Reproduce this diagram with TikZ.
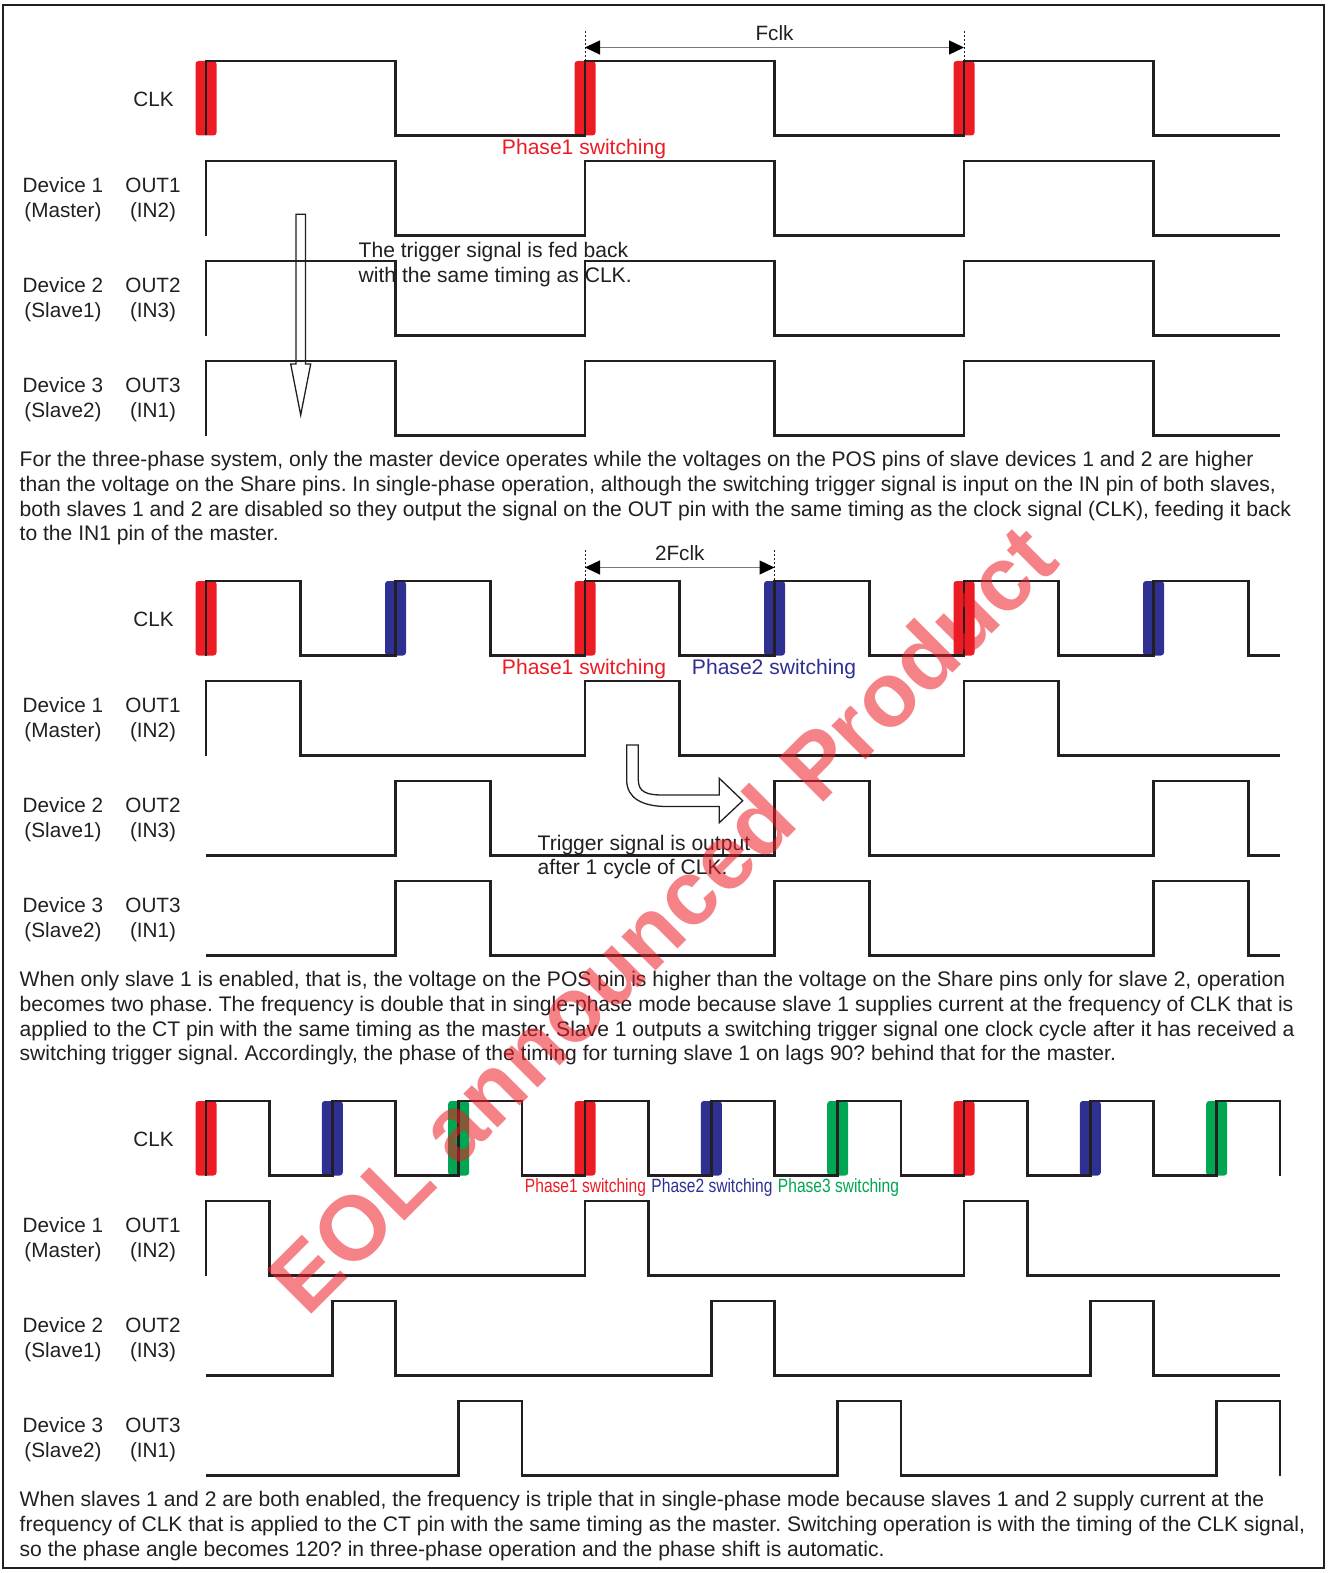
\documentclass[tikz,border=0pt]{standalone}
\usepackage{fontspec}
\setmainfont{Liberation Sans}
\usetikzlibrary{arrows.meta}
\definecolor{phred}{RGB}{237,28,36}
\definecolor{phblue}{RGB}{46,49,146}
\definecolor{phgreen}{RGB}{0,166,81}
\definecolor{ink}{RGB}{35,31,32}
\definecolor{dimgray}{RGB}{120,120,120}
\newcommand\txtfont{\fontsize{21.08}{24.7}\selectfont\frenchspacing}
\newcommand\lblfont{\fontsize{20.7}{24.7}\selectfont\frenchspacing}
\newcommand\smfont{\fontsize{19.2}{22}\selectfont}
\newcommand\wmfont{\fontsize{91}{91}\selectfont\bfseries}
% waveforms, high level at y=0, low level at y=74.5
\newcommand\wavA{(206,74.5)--(206,0)--(395.5,0)--(395.5,74.5)--(585,74.5)--(585,0)--(774.5,0)--(774.5,74.5)--(964,74.5)--(964,0)--(1153.5,0)--(1153.5,74.5)--(1280,74.5)}
\newcommand\wavBclk{(206,74.5)--(206,0)--(300.75,0)--(300.75,74.5)--(395.5,74.5)--(395.5,0)--(490.25,0)--(490.25,74.5)--(585,74.5)--(585,0)--(679.75,0)--(679.75,74.5)--(774.5,74.5)--(774.5,0)--(869.25,0)--(869.25,74.5)--(964,74.5)--(964,0)--(1058.75,0)--(1058.75,74.5)--(1153.5,74.5)--(1153.5,0)--(1248.25,0)--(1248.25,74.5)--(1280,74.5)}
\newcommand\wavBone{(206,74.5)--(206,0)--(300.75,0)--(300.75,74.5)--(585,74.5)--(585,0)--(679.75,0)--(679.75,74.5)--(964,74.5)--(964,0)--(1058.75,0)--(1058.75,74.5)--(1280,74.5)}
\newcommand\wavBtwo{(206,74.5)--(395.5,74.5)--(395.5,0)--(490.25,0)--(490.25,74.5)--(774.5,74.5)--(774.5,0)--(869.25,0)--(869.25,74.5)--(1153.5,74.5)--(1153.5,0)--(1248.25,0)--(1248.25,74.5)--(1280,74.5)}
\newcommand\wavCclk{(206,74.5)--(206,0)--(269.2,0)--(269.2,74.5)--(332.3,74.5)--(332.3,0)--(395.5,0)--(395.5,74.5)--(458.7,74.5)--(458.7,0)--(521.8,0)--(521.8,74.5)--(585,74.5)--(585,0)--(648.2,0)--(648.2,74.5)--(711.3,74.5)--(711.3,0)--(774.5,0)--(774.5,74.5)--(837.7,74.5)--(837.7,0)--(900.8,0)--(900.8,74.5)--(964,74.5)--(964,0)--(1027.2,0)--(1027.2,74.5)--(1090.3,74.5)--(1090.3,0)--(1153.5,0)--(1153.5,74.5)--(1216.7,74.5)--(1216.7,0)--(1279.8,0)--(1279.8,74.5)}
\newcommand\wavCone{(206,74.5)--(206,0)--(269.2,0)--(269.2,74.5)--(585,74.5)--(585,0)--(648.2,0)--(648.2,74.5)--(964,74.5)--(964,0)--(1027.2,0)--(1027.2,74.5)--(1280,74.5)}
\newcommand\wavCtwo{(206,74.5)--(332.3,74.5)--(332.3,0)--(395.5,0)--(395.5,74.5)--(711.3,74.5)--(711.3,0)--(774.5,0)--(774.5,74.5)--(1090.3,74.5)--(1090.3,0)--(1153.5,0)--(1153.5,74.5)--(1280,74.5)}
\newcommand\wavCthree{(206,74.5)--(458.7,74.5)--(458.7,0)--(521.8,0)--(521.8,74.5)--(837.7,74.5)--(837.7,0)--(900.8,0)--(900.8,74.5)--(1216.7,74.5)--(1216.7,0)--(1279.8,0)--(1279.8,74.5)}
\newcommand\phbar[4]{\fill[#1,rounded corners=3pt] ({#2-10.5},#3) rectangle ({#2+10.5},#4);}
\begin{document}
\begin{tikzpicture}[x=1pt,y=-1pt,
  sig/.style={draw=ink,line width=2.6pt,line join=miter,line cap=butt},
  lbl/.style={font=\lblfont,text=ink,inner sep=0pt,anchor=base},
  phlbl/.style={font=\txtfont,inner sep=0pt,anchor=base},
  para/.style={font=\txtfont,text=ink,inner sep=0pt,anchor=base west},
  guide/.style={draw=ink,line width=0.8pt,dash pattern=on 2pt off 2pt},
  dimline/.style={draw=dimgray,line width=1.4pt,{Triangle[length=15pt,width=14pt,color=black]}-{Triangle[length=15pt,width=14pt,color=black]}},
  hollow/.style={draw=ink,line width=1.3pt,line join=miter}]
\useasboundingbox (0,0) rectangle (1327,1573);
\fill[white] (0,0) rectangle (1327,1573);
\draw[ink,line width=2pt] (3,5) rectangle (1323.5,1568);

% ---------- phase bars ----------
\phbar{phred}{206}{61}{135.5}
\phbar{phred}{585}{61}{135.5}
\phbar{phred}{964}{61}{135.5}
\phbar{phred}{206}{581}{655.5}
\phbar{phblue}{395.5}{581}{655.5}
\phbar{phred}{585}{581}{655.5}
\phbar{phblue}{774.5}{581}{655.5}
\phbar{phred}{964}{581}{655.5}
\phbar{phblue}{1153.5}{581}{655.5}
\phbar{phred}{206}{1101}{1175.5}
\phbar{phblue}{332.3}{1101}{1175.5}
\phbar{phgreen}{458.7}{1101}{1175.5}
\phbar{phred}{585}{1101}{1175.5}
\phbar{phblue}{711.3}{1101}{1175.5}
\phbar{phgreen}{837.7}{1101}{1175.5}
\phbar{phred}{964}{1101}{1175.5}
\phbar{phblue}{1090.3}{1101}{1175.5}
\phbar{phgreen}{1216.7}{1101}{1175.5}

% ---------- waveforms ----------
\foreach \yy in {61,161,261,361}{\begin{scope}[yshift=-\yy pt]\draw[sig] \wavA;\end{scope}}
\begin{scope}[yshift=-581pt]\draw[sig] \wavBclk;\end{scope}
\begin{scope}[yshift=-681pt]\draw[sig] \wavBone;\end{scope}
\begin{scope}[yshift=-781pt]\draw[sig] \wavBtwo;\end{scope}
\begin{scope}[yshift=-881pt]\draw[sig] \wavBtwo;\end{scope}
\begin{scope}[yshift=-1101pt]\draw[sig] \wavCclk;\end{scope}
\begin{scope}[yshift=-1201pt]\draw[sig] \wavCone;\end{scope}
\begin{scope}[yshift=-1301pt]\draw[sig] \wavCtwo;\end{scope}
\begin{scope}[yshift=-1401pt]\draw[sig] \wavCthree;\end{scope}

% ---------- row labels ----------
\foreach \B/\s in {0/A,520/B,1040/C}{
  \node[lbl] (clk\s) at (153.5,106.5+\B) {CLK};
  \node[lbl] (dev\s1) at (63,192.7+\B) {Device 1};
  \node[lbl] (role\s1) at (63,217.4+\B) {(Master)};
  \node[lbl] (out\s1) at (153,192.7+\B) {OUT1};
  \node[lbl] (in\s1) at (153,217.4+\B) {(IN2)};
  \node[lbl] (dev\s2) at (63,292.7+\B) {Device 2};
  \node[lbl] (role\s2) at (63,317.4+\B) {(Slave1)};
  \node[lbl] (out\s2) at (153,292.7+\B) {OUT2};
  \node[lbl] (in\s2) at (153,317.4+\B) {(IN3)};
  \node[lbl] (dev\s3) at (63,392.7+\B) {Device 3};
  \node[lbl] (role\s3) at (63,417.4+\B) {(Slave2)};
  \node[lbl] (out\s3) at (153,392.7+\B) {OUT3};
  \node[lbl] (in\s3) at (153,417.4+\B) {(IN1)};
}

% ---------- period dimensions ----------
\coordinate (gA1t) at (585,31);  \coordinate (gA1b) at (585,61);
\coordinate (gA2t) at (964,31);  \coordinate (gA2b) at (964,61);
\draw[guide] (gA1t) -- (gA1b);
\draw[guide] (gA2t) -- (gA2b);
\coordinate (fA1) at (585,47.5); \coordinate (fA2) at (964,47.5);
\draw[dimline] (fA1) -- (fA2);
\node[lbl] (fclk) at (774.5,40.7) {Fclk};

\coordinate (gB1t) at (585,550);   \coordinate (gB1b) at (585,581);
\coordinate (gB2t) at (774.5,550); \coordinate (gB2b) at (774.5,581);
\draw[guide] (gB1t) -- (gB1b);
\draw[guide] (gB2t) -- (gB2b);
\coordinate (fB1) at (585,567.5); \coordinate (fB2) at (774.5,567.5);
\draw[dimline] (fB1) -- (fB2);
\node[lbl] (twofclk) at (679.75,560) {2Fclk};

% ---------- phase labels ----------
\node[phlbl,text=phred] (phA1) at (584,155) {Phase1 switching};
\node[phlbl,text=phred] (phB1) at (584,674.5) {Phase1 switching};
\node[phlbl,text=phblue] (phB2) at (774,674.5) {Phase2 switching};
\node[phlbl,font=\smfont,text=phred] (phC1) at (585.5,1192.5) {\scalebox{0.81}[1]{Phase1 switching}};
\node[phlbl,font=\smfont,text=phblue] (phC2) at (712,1192.5) {\scalebox{0.81}[1]{Phase2 switching}};
\node[phlbl,font=\smfont,text=phgreen] (phC3) at (838.5,1192.5) {\scalebox{0.81}[1]{Phase3 switching}};

% ---------- hollow arrows ----------
\draw[hollow] (296,214.3) -- (305.5,214.3) -- (305.5,364) -- (310.7,364) -- (300.7,415) -- (290.7,364) -- (296,364) -- cycle;
\draw[hollow] (626.7,745) -- (638.3,745) -- (638.3,780) .. controls (638.3,792) and (647,795) .. (662,795) -- (719.3,795) -- (719.3,778.3) -- (742.7,800.7) -- (719.3,822.7) -- (719.3,806.5) -- (667,806.5) .. controls (642,806.5) and (626.7,798) .. (626.7,780) -- cycle;

% ---------- annotations ----------
\node[para] (trigA1) at (358.5,257.3) {The trigger signal is fed back};
\node[para] (trigA2) at (358.5,282) {with the same timing as CLK.};
\node[para] (trigB1) at (537.5,850) {Trigger signal is output};
\node[para] (trigB2) at (537.5,874.5) {after 1 cycle of CLK.};

% ---------- paragraphs ----------
\node[para] (pA1) at (19.5,466.7) {For the three-phase system, only the master device operates while the voltages on the POS pins of slave devices 1 and 2 are higher};
\node[para] (pA2) at (19.5,491.4) {than the voltage on the Share pins. In single-phase operation, although the switching trigger signal is input on the IN pin of both slaves,};
\node[para] (pA3) at (19.5,516.1) {both slaves 1 and 2 are disabled so they output the signal on the OUT pin with the same timing as the clock signal (CLK), feeding it back};
\node[para] (pA4) at (19.5,540.8) {to the IN1 pin of the master.};

\node[para] (pB1) at (19.5,986.7) {When only slave 1 is enabled, that is, the voltage on the POS pin is higher than the voltage on the Share pins only for slave 2, operation};
\node[para] (pB2) at (19.5,1011.4) {becomes two phase. The frequency is double that in single-phase mode because slave 1 supplies current at the frequency of CLK that is};
\node[para] (pB3) at (19.5,1036.1) {applied to the CT pin with the same timing as the master. Slave 1 outputs a switching trigger signal one clock cycle after it has received a};
\node[para] (pB4) at (19.5,1060.8) {switching trigger signal. Accordingly, the phase of the timing for turning slave 1 on lags 90? behind that for the master.};

\node[para] (pC1) at (19.5,1506.7) {When slaves 1 and 2 are both enabled, the frequency is triple that in single-phase mode because slaves 1 and 2 supply current at the};
\node[para] (pC2) at (19.5,1531.4) {frequency of CLK that is applied to the CT pin with the same timing as the master. Switching operation is with the timing of the CLK signal,};
\node[para] (pC3) at (19.5,1556.1) {so the phase angle becomes 120? in three-phase operation and the phase shift is automatic.};

% ---------- watermark ----------
\node[rotate=45,font=\wmfont,text=phred,text opacity=0.55,inner sep=0pt] (wm) at (662,918) {EOL announced Product};
\end{tikzpicture}
\end{document}
